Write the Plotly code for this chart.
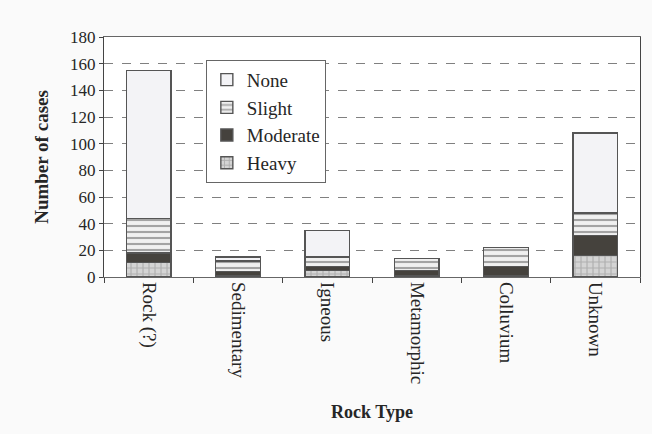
import plotly.graph_objects as go

# Rock type categories and case counts by damage level
rock_types = ["Rock (?)", "Sedimentary", "Igneous", "Metamorphic", "Colluvium", "Unknown"]
heavy = [11, 1, 5, 1, 1, 16]
moderate = [7, 3, 3, 4, 7, 15]
slight = [26, 8, 7, 9, 14, 17]
none = [111, 3, 20, 0, 0, 60]

y_ticks = [0, 20, 40, 60, 80, 100, 120, 140, 160, 180]

serif = "Liberation Serif, Times New Roman, serif"
ink = "#262626"

series = [
    ("Heavy", heavy, "#d4d4d4", "+", "#8a8a8a"),
    ("Moderate", moderate, "#45423d", "", None),
    ("Slight", slight, "#f0f0f0", "-", "#555555"),
    ("None", none, "#f3f3f6", "", None),
]

fig = go.Figure()
for name, vals, color, shape, fg in series:
    marker = dict(color=color, line=dict(color="#555555", width=1.4))
    if shape:
        marker["pattern"] = dict(shape=shape, fgcolor=fg, bgcolor=color,
                                 size=6, solidity=0.35)
    fig.add_trace(go.Bar(x=rock_types, y=vals, name=name, marker=marker, width=0.5))

fig.update_layout(
    barmode="stack",
    width=652, height=434,
    margin=dict(l=104, r=12, t=37, b=157),
    paper_bgcolor="#fafafa",
    plot_bgcolor="white",
    font=dict(family=serif, size=17, color=ink),
    legend=dict(
        x=0.19, y=0.905, xanchor="left", yanchor="top",
        traceorder="reversed",
        bgcolor="white", bordercolor="#666666", borderwidth=1,
        font=dict(family=serif, size=19, color=ink),
        itemwidth=30,
    ),
    xaxis=dict(
        tickangle=90,
        ticks="outside", ticklen=5, tickson="boundaries",
        showline=True, linecolor="#666666", linewidth=1.2, mirror=True,
        tickfont=dict(family=serif, size=19, color=ink),
        title=dict(text="<b>Rock Type</b>", font=dict(family=serif, size=18, color=ink),
                   standoff=22),
    ),
    yaxis=dict(
        range=[0, 180], tickvals=y_ticks,
        ticks="outside", ticklen=4,
        showline=True, linecolor="#444444", linewidth=1.2, mirror=True,
        showgrid=True, gridcolor="#808080", griddash="dash", gridwidth=1.2,
        tickfont=dict(family=serif, size=17, color=ink),
        title=dict(text="<b>Number of cases</b>", font=dict(family=serif, size=19, color=ink),
                   standoff=16),
    ),
)

fig.write_html("out.html")
